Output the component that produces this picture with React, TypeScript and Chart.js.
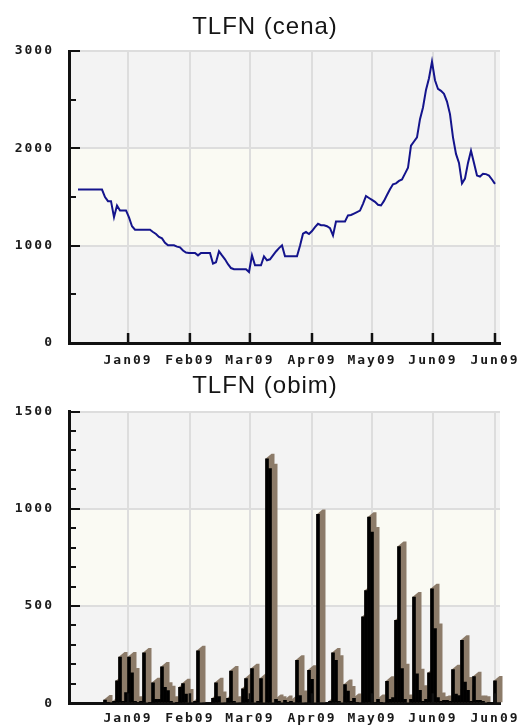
import React, { useEffect, useRef } from 'react';
import { Chart, registerables } from 'chart.js';

Chart.register(...registerables);

// x positions are trading-day indices
const tickIdx = [19.7, 40.3, 60.3, 81, 101, 121.3, 142];
const tickLabels = ['Jan09', 'Feb09', 'Mar09', 'Apr09', 'May09', 'Jun09', 'Jun09'];
const xMax = 143.67;

const priceStart = 3;
const price = [
  1577, 1577, 1577, 1577, 1577, 1577, 1577, 1577, 1577,
  1500, 1457, 1457, 1293, 1413, 1362, 1362, 1362,
  1290, 1200, 1164, 1164, 1164, 1164, 1164, 1164,
  1140, 1120, 1090, 1075, 1030, 1003, 1003, 1003,
  990, 983, 950, 930, 925, 925, 925, 900,
  925, 925, 925, 925, 816, 830, 942, 900,
  860, 810, 770, 758, 758, 758, 758, 758,
  730, 901, 799, 799, 799, 891, 850, 860,
  900, 940, 975, 1003, 891, 891, 891, 891,
  891, 1000, 1123, 1140, 1120, 1150, 1190, 1225,
  1210, 1210, 1200, 1180, 1106, 1249, 1249, 1249,
  1249, 1311, 1315, 1330, 1345, 1360, 1430, 1510,
  1490, 1470, 1450, 1420, 1413, 1460, 1520, 1580,
  1630, 1640, 1665, 1680, 1740, 1800, 2027, 2070,
  2113, 2300, 2420, 2600, 2720, 2891, 2700, 2610,
  2590, 2560, 2480, 2352, 2113, 1943, 1850, 1640,
  1690, 1850, 1976, 1850, 1720, 1710, 1738, 1735,
  1720, 1680, 1635,
];

const volumeStart = 11;
const volume = [
  0, 17, 5, 0, 10, 115, 238, 10, 55, // 11-19
  238, 156, 10, 5, 10, 259, 0, 5, 105, 20, // 20-29
  20, 187, 82, 65, 10, 0, 5, 82, 101, 48, // 30-39
  0, 0, 10, 270, 0, 0, 0, 0, 25, 105, // 40-49
  35, 0, 0, 25, 166, 10, 0, 0, 75, 127, // 50-59
  20, 178, 0, 10, 127, 0, 1257, 1206, 0, 20, // 60-69
  10, 0, 15, 5, 10, 0, 221, 40, 0, 0, // 70-79
  170, 123, 0, 971, 0, 0, 0, 10, 259, 221, // 80-89
  10, 0, 96, 63, 10, 25, 5, 0, 444, 580, // 90-99
  957, 880, 5, 20, 5, 0, 113, 20, 30, 426, // 100-109
  806, 178, 20, 0, 20, 546, 152, 67, 10, 20, // 110-119
  156, 589, 384, 30, 10, 15, 15, 10, 173, 48, // 120-129
  40, 324, 109, 67, 10, 137, 15, 15, 10, 0, // 130-139
  5, 0, 115, // 140-142
];

const GRAY = '#f3f3f3';
const CREAM = '#fafaf3';
const GRID = '#dddddd';
const AXIS = '#111111';
const BROWN = '#8c7b69';
const LINE = '#14148c';
const TICK_FONT = { family: '"DejaVu Sans Mono", monospace', size: 13, weight: 'bold' as const };

const decorPlugin = {
  id: 'decor',
  beforeDraw(chart: any, _args: any, opts: any) {
    const ctx = chart.ctx;
    const { left, right } = chart.chartArea;
    const y = chart.scales.y;
    ctx.save();
    let k = 0;
    for (let v = 0; v < y.max; v += opts.major, k++) {
      const y0 = y.getPixelForValue(v);
      const y1 = y.getPixelForValue(v + opts.major);
      ctx.fillStyle = k % 2 === 0 ? GRAY : CREAM;
      ctx.fillRect(left, y1, right - left, y0 - y1);
    }
    ctx.restore();
    try { ctx.letterSpacing = '2px'; } catch (e) { /* ignore */ }
  },
  beforeDatasetsDraw(chart: any, _args: any, opts: any) {
    if (!opts.shadow) return;
    const ctx = chart.ctx;
    const meta = chart.getDatasetMeta(0);
    const dx = 6, dy = 5;
    ctx.save();
    ctx.fillStyle = BROWN;
    meta.data.forEach((el: any) => {
      const p = el.getProps(['x', 'y', 'base', 'width'], true);
      if (p.base - p.y < 0.5) return;
      const xl = p.x - p.width / 2;
      const xr = p.x + p.width / 2;
      ctx.beginPath();
      ctx.moveTo(xl, p.y);
      ctx.lineTo(xl + dx, p.y - dy);
      ctx.lineTo(xr + dx, p.y - dy);
      ctx.lineTo(xr + dx, p.base);
      ctx.lineTo(xl, p.base);
      ctx.closePath();
      ctx.fill();
    });
    ctx.restore();
  },
  afterDraw(chart: any, _args: any, opts: any) {
    const ctx = chart.ctx;
    const { left, bottom } = chart.chartArea;
    const y = chart.scales.y;
    const x = chart.scales.x;
    ctx.save();
    ctx.strokeStyle = AXIS;
    ctx.lineWidth = 2;
    for (let v = opts.minor; v <= y.max; v += opts.minor) {
      const py = Math.round(y.getPixelForValue(v));
      const len = Math.abs(v % opts.major) < 1e-6 ? 11 : 7;
      ctx.beginPath();
      ctx.moveTo(left - 1, py);
      ctx.lineTo(left + len, py);
      ctx.stroke();
    }
    ctx.lineWidth = 2.5;
    x.ticks.forEach((t: any) => {
      const px = x.getPixelForValue(t.value);
      ctx.beginPath();
      ctx.moveTo(px, bottom);
      ctx.lineTo(px, bottom - 10);
      ctx.stroke();
    });
    ctx.restore();
  },
};

function xScale(height: number, areaBottom: number, pad: number) {
  return {
    type: 'linear',
    min: 0,
    max: xMax,
    offset: false,
    afterBuildTicks: (s: any) => {
      s.ticks = tickIdx.map((v) => ({ value: v }));
    },
    afterFit: (s: any) => {
      s.height = height - areaBottom;
      s.paddingLeft = 0;
      s.paddingRight = 0;
    },
    ticks: {
      autoSkip: false,
      maxRotation: 0,
      minRotation: 0,
      padding: pad,
      font: TICK_FONT,
      color: '#1a1a1a',
      callback: (_v: any, i: number) => tickLabels[i],
    },
    grid: { color: GRID, lineWidth: 2, drawTicks: false, offset: false },
    border: { display: true, color: AXIS, width: 3 },
  };
}

function yScale(max: number, step: number) {
  return {
    min: 0,
    max,
    afterFit: (s: any) => {
      s.width = 69;
      s.paddingTop = 0;
      s.paddingBottom = 0;
    },
    ticks: {
      stepSize: step,
      padding: 15,
      font: TICK_FONT,
      color: '#1a1a1a',
      callback: (v: any) => String(v),
    },
    grid: { color: GRID, lineWidth: 2, drawTicks: false },
    border: { display: true, color: AXIS, width: 3 },
  };
}

const H1 = 372;
const H2 = 355;

export default function App() {
  const topRef = useRef<HTMLCanvasElement>(null);
  const botRef = useRef<HTMLCanvasElement>(null);

  useEffect(() => {
    const priceData = price.map((v, k) => ({ x: priceStart + k, y: v }));
    const volData = volume.map((v, k) => ({ x: volumeStart + k, y: v }));

    const top = new Chart(topRef.current as HTMLCanvasElement, {
      type: 'line',
      data: {
        datasets: [
          {
            data: priceData,
            borderColor: LINE,
            borderWidth: 2,
            pointRadius: 0,
            tension: 0,
            fill: false,
          },
        ],
      },
      options: {
        animation: false,
        responsive: false,
        events: [],
        layout: { padding: { top: 51, left: 0, right: 18, bottom: 0 } },
        plugins: {
          legend: { display: false },
          title: { display: false },
          tooltip: { enabled: false },
          decor: { major: 1000, minor: 500, shadow: false },
        } as any,
        scales: {
          x: xScale(H1, 343, 10) as any,
          y: yScale(3000, 1000) as any,
        },
      },
      plugins: [decorPlugin],
    });

    const bot = new Chart(botRef.current as HTMLCanvasElement, {
      type: 'bar',
      data: {
        datasets: [
          {
            data: volData as any,
            backgroundColor: '#000000',
            borderWidth: 0,
            barPercentage: 1,
            categoryPercentage: 1,
          },
        ],
      },
      options: {
        animation: false,
        responsive: false,
        events: [],
        layout: { padding: { top: 39.5, left: 0, right: 18, bottom: 0 } },
        plugins: {
          legend: { display: false },
          title: { display: false },
          tooltip: { enabled: false },
          decor: { major: 500, minor: 100, shadow: true },
        } as any,
        scales: {
          x: xScale(H2, 331.3, 8) as any,
          y: yScale(1500, 500) as any,
        },
      },
      plugins: [decorPlugin],
    });

    return () => {
      top.destroy();
      bot.destroy();
    };
  }, []);

  const titleStyle: React.CSSProperties = {
    position: 'absolute',
    left: 0,
    width: 530,
    textAlign: 'center',
    fontFamily: '"Liberation Sans", Arial, sans-serif',
    fontSize: 24,
    lineHeight: '24px',
    letterSpacing: '1px',
    color: '#151515',
    whiteSpace: 'nowrap',
  };

  return (
    <div style={{ position: 'absolute', left: 0, top: 0, width: 518, height: 727, background: '#ffffff', overflow: 'hidden' }}>
      <canvas ref={topRef} width={518} height={H1} style={{ position: 'absolute', left: 0, top: 0 }} />
      <canvas ref={botRef} width={518} height={H2} style={{ position: 'absolute', left: 0, top: H1 }} />
      <div style={{ ...titleStyle, top: 14 }}>TLFN (cena)</div>
      <div style={{ ...titleStyle, top: 373 }}>TLFN (obim)</div>
    </div>
  );
}
